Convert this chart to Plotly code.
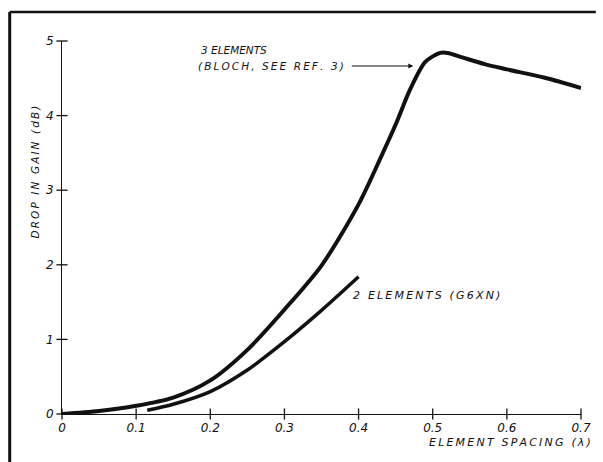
import plotly.graph_objects as go

# 3 elements (Bloch) curve
x3 = [0, 0.05, 0.1, 0.15, 0.2, 0.25, 0.3, 0.35, 0.4, 0.43, 0.45, 0.47, 0.49, 0.51, 0.52, 0.54, 0.57, 0.6, 0.65, 0.7]
y3 = [0, 0.04, 0.11, 0.22, 0.45, 0.86, 1.4, 1.99, 2.81, 3.44, 3.88, 4.36, 4.72, 4.84, 4.84, 4.78, 4.69, 4.62, 4.51, 4.37]
# 2 elements (G6XN) curve
x2 = [0.115, 0.15, 0.2, 0.25, 0.3, 0.35, 0.4]
y2 = [0.05, 0.13, 0.3, 0.59, 0.97, 1.39, 1.84]

xticks = [0, 0.1, 0.2, 0.3, 0.4, 0.5, 0.6, 0.7]
xticklabels = ["0", "0.1", "0.2", "0.3", "0.4", "0.5", "0.6", "0.7"]
yticks = [0, 1, 2, 3, 4, 5]
yticklabels = ["0", "1", "2", "3", "4", "5"]

FONT = "DejaVu Sans"
INK = "#111111"


def spaced(s):
    return "\u2009".join(s)


fig = go.Figure()
fig.add_trace(go.Scatter(x=x3, y=y3, mode="lines", line=dict(color=INK, width=4, shape="spline", smoothing=0.8),
                         cliponaxis=False, showlegend=False, hoverinfo="skip"))
fig.add_trace(go.Scatter(x=x2, y=y2, mode="lines", line=dict(color=INK, width=3.5, shape="spline", smoothing=0.8),
                         cliponaxis=False, showlegend=False, hoverinfo="skip"))
# cross-style tick marks
fig.add_trace(go.Scatter(x=xticks, y=[0]*len(xticks), mode="markers",
                         marker=dict(symbol="line-ns", size=8, line=dict(color=INK, width=1.3)),
                         cliponaxis=False, showlegend=False, hoverinfo="skip"))
fig.add_trace(go.Scatter(x=[0]*len(yticks), y=yticks, mode="markers",
                         marker=dict(symbol="line-ew", size=8, line=dict(color=INK, width=1.3)),
                         cliponaxis=False, showlegend=False, hoverinfo="skip"))

L, R, T, B = 62, 15, 41, 48
W, H = 603, 462
pw, ph = W - L - R, H - T - B


def px(p):
    return (p - L) / pw


def py(p):
    return (H - B - p) / ph


lab = dict(family=FONT, style="italic", color=INK)

fig.update_layout(
    width=W, height=H,
    margin=dict(l=L, r=R, t=T, b=B, pad=0),
    paper_bgcolor="white", plot_bgcolor="white",
    font=dict(family=FONT, color=INK, size=11, style="italic"),
    xaxis=dict(range=[0, 0.7], showgrid=False, zeroline=False, showline=True, linecolor=INK, linewidth=1,
               tickmode="array", tickvals=xticks, ticktext=xticklabels, ticks="",
               tickfont=dict(size=12, **lab), ticklabelstandoff=3),
    yaxis=dict(range=[0, 5], showgrid=False, zeroline=False, showline=True, linecolor=INK, linewidth=1,
               tickmode="array", tickvals=yticks, ticktext=yticklabels, ticks="",
               tickfont=dict(size=12, **lab), ticklabelstandoff=5),
    shapes=[
        dict(type="line", xref="paper", yref="paper", x0=px(9), x1=px(603), y0=py(12), y1=py(12),
             line=dict(color=INK, width=2.5)),
        dict(type="line", xref="paper", yref="paper", x0=px(9), x1=px(9), y0=py(12), y1=py(462),
             line=dict(color=INK, width=3)),
    ],
    annotations=[
        dict(text=spaced("DROP IN GAIN (dB)"), xref="paper", yref="paper", x=px(27), y=py(172), textangle=-90,
             showarrow=False, font=dict(size=10.5, **lab)),
        dict(text=spaced("ELEMENT SPACING (λ)"), xref="paper", yref="paper", x=px(600), y=py(442),
             xanchor="right", yanchor="middle", showarrow=False, font=dict(size=11, **lab)),
        dict(text=spaced("2 ELEMENTS (G6XN)"), xref="x", yref="y", x=0.39, y=1.595, xanchor="left", yanchor="middle",
             showarrow=False, font=dict(size=11, **lab)),
        dict(text="3 ELEMENTS", xref="x", yref="y", x=0.185, y=4.88, xanchor="left", yanchor="middle",
             showarrow=False, font=dict(size=10.5, **lab)),
        dict(text=spaced("(BLOCH, SEE REF. 3)"), xref="x", yref="y", x=0.383, y=4.665, xanchor="right", yanchor="middle",
             showarrow=False, font=dict(size=10.5, **lab)),
        dict(text="", xref="x", yref="y", x=0.4738, y=4.665, ax=-63, ay=0, showarrow=True,
             arrowhead=2, arrowsize=1, arrowwidth=1, arrowcolor=INK),
    ],
)

fig.write_html("out.html")
